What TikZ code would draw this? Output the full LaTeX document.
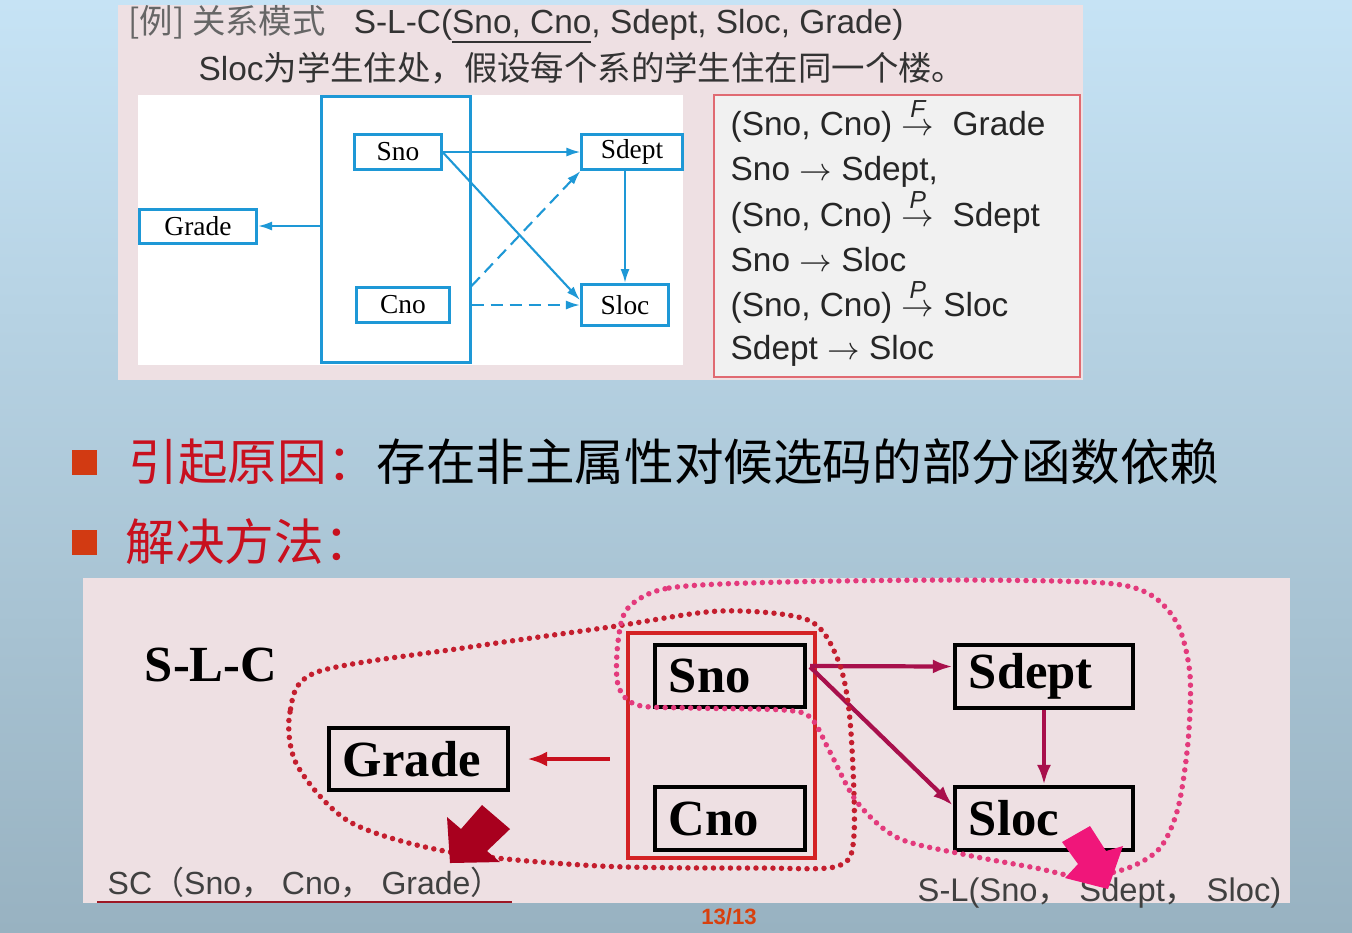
\documentclass[tikz,border=0pt]{standalone}
\usepackage{amsmath}
\usepackage{fontspec}
\setmainfont{Liberation Sans}
\newfontfamily\cjk{Noto Sans CJK SC}
\newfontfamily\serifbox{Liberation Serif}
\usetikzlibrary{arrows.meta,calc}

\definecolor{skytop}{HTML}{C6E3F5}
\definecolor{skybot}{HTML}{98B2C1}
\definecolor{paper}{HTML}{EEE0E3}
\definecolor{figblue}{HTML}{1E98D6}
\definecolor{fdframe}{HTML}{E06A72}
\definecolor{fdfill}{HTML}{F1F1F1}
\definecolor{bulred}{HTML}{D23A12}
\definecolor{hanred}{HTML}{C8101E}
\definecolor{keyred}{HTML}{D42224}
\definecolor{fdarr}{HTML}{A8104C}
\definecolor{scdot}{HTML}{C41E2E}
\definecolor{sldot}{HTML}{E33A7C}
\definecolor{scblk}{HTML}{A8001E}
\definecolor{slblk}{HTML}{F0167A}
\definecolor{pagenum}{HTML}{D8400E}

\newcommand{\fdto}[1]{\ooalign{\hfil\raisebox{1.0ex}{\scriptsize\itshape #1}\hfil\cr$\rightarrow$\cr}}

\begin{document}
\begin{tikzpicture}[x=0.01cm, y=-0.01cm, >={Latex[length=0.14cm,width=0.09cm]},
    tbox/.style={draw=figblue, line width=0.85pt, fill=white, inner sep=0pt, font=\serifbox\fontsize{7.8}{9}\selectfont},
    fdline/.style={anchor=base west, inner sep=0pt, font=\fontsize{9.5}{11}\selectfont, text=black!85},
    bbox/.style={draw=black, line width=1.2pt, inner xsep=0.14cm, inner ysep=0pt, align=left, font=\serifbox\bfseries\fontsize{14.4}{16}\selectfont},
    dotline/.style={line width=0.055cm, line cap=round, dash pattern=on 0pt off 0.085cm},
    hanzi/.style={anchor=west, inner sep=0pt, font=\cjk\fontsize{14.1}{16}\selectfont},
    fdlink/.style={fdarr, line width=1.2pt, -{Latex[length=0.2cm,width=0.14cm]}}]
  \useasboundingbox (0,0) rectangle (1352,932);
  \fill[top color=skytop, bottom color=skybot] (0,0) rectangle (1352,932);

  % example slide
  \fill[paper] (118,5) rectangle (1083,380);
  \node[anchor=base west, inner sep=0pt, font=\fontsize{9.5}{11}\selectfont, text=black!80] (title) at (128,33)
    {{\cjk\color{black!60}[例] 关系模式}\hspace{0.28cm}S-L-C(\underline{Sno, Cno}, Sdept, Sloc, Grade)};
  \node[anchor=base west, inner sep=0pt, font=\fontsize{9.5}{11}\selectfont, text=black!80] (note) at (198,80)
    {Sloc{\cjk 为学生住处，假设每个系的学生住在同一个楼。}};
  \fill[white] (138,95) rectangle (683,365);
  \node[draw=figblue, line width=0.85pt, minimum width=1.48cm, minimum height=2.65cm, inner sep=0pt] (tkey) at (396,229.5) {};
  \node[tbox, minimum width=0.86cm, minimum height=0.35cm] (tsno) at (398,152) {Sno};
  \node[tbox, minimum width=0.93cm, minimum height=0.35cm] (tcno) at (403,305) {Cno};
  \node[tbox, minimum width=1.17cm, minimum height=0.34cm] (tgrade) at (198,226) {Grade};
  \node[tbox, minimum width=1.00cm, minimum height=0.35cm] (tsdept) at (632,152) {Sdept};
  \node[tbox, minimum width=0.87cm, minimum height=0.41cm] (tsloc) at (625,305) {Sloc};
  \begin{scope}[figblue, line width=0.6pt]
    \draw[->] (tkey.west |- tgrade) -- (tgrade.east);
    \draw[->] (tsno.east) -- (tsdept.west);
    \draw[->] (tsno.east) -- ($(tsloc.west)+(0,-5)$);
    \draw[->, dash pattern=on 0.12cm off 0.07cm] (tkey.east |- tcno.north) -- (tsdept.south west);
    \draw[->, dash pattern=on 0.12cm off 0.07cm] (tkey.east |- tcno) -- (tsloc.west);
    \draw[->] (tsloc.north |- tsdept.south) -- (tsloc.north);
  \end{scope}

  \node[draw=fdframe, fill=fdfill, line width=0.6pt, minimum width=3.66cm, minimum height=2.82cm, inner sep=0pt] (fdbox) at (897,236) {};
  \foreach \i/\y/\txt in {1/135/{(Sno, Cno) \fdto{F}\ \ Grade},
                          2/180/{Sno $\rightarrow$ Sdept,},
                          3/226/{(Sno, Cno) \fdto{P}\ \ Sdept},
                          4/271/{Sno $\rightarrow$ Sloc},
                          5/316/{(Sno, Cno) \fdto{P} Sloc},
                          6/359/{Sdept $\rightarrow$ Sloc}} {
    \node[fdline] (fd\i) at (730,\y) {\txt};
  }

  % bullets
  \node[fill=bulred, minimum size=0.25cm, inner sep=0pt] (bul1) at (84.5,462.5) {};
  \node[fill=bulred, minimum size=0.25cm, inner sep=0pt] (bul2) at (84.5,542.5) {};
  \node[hanzi] (cause) at (128,462) {{\color{hanred}引起原因：}存在非主属性对候选码的部分函数依赖};
  \node[hanzi, text=hanred] (cure) at (125,542) {解决方法：};

  % decomposition
  \fill[paper] (83,578) rectangle (1290,903);
  \draw[scdot!80!black, line width=0.4pt] (97,902) -- (512,902);
  \node[inner sep=0pt, font=\serifbox\bfseries\fontsize{14.4}{16}\selectfont] (slc) at (211,665) {S-L-C};
  \node[draw=keyred, line width=1.2pt, minimum width=1.87cm, minimum height=2.25cm, inner sep=0pt] (bkey) at (721.5,745.5) {};
  \node[bbox, text width=1.51cm, minimum height=0.62cm] (bgrade) at (418.5,759) {Grade};
  \node[bbox, text width=1.22cm, minimum height=0.62cm] (bsno) at (730,676) {Sno};
  \node[bbox, text width=1.22cm, minimum height=0.63cm] (bcno) at (730,818.5) {Cno};
  \node[bbox, text width=1.50cm, minimum height=0.63cm] (bsdept) at (1044,676.5) {Sdept};
  \node[bbox, text width=1.50cm, minimum height=0.63cm] (bsloc) at (1044,818.5) {Sloc};
  \draw[hanred, line width=1.2pt, -{Latex[length=0.2cm,width=0.15cm]}] ($(bkey.west |- bgrade)+(-16,0)$) -- ($(bgrade.east)+(17,0)$);
  \draw[fdlink] ($(bsno.east)+(3,-10)$) -- ($(bsdept.west)+(0,-10)$);
  \draw[fdlink] ($(bsno.east)+(3,-9)$) -- ($(bsloc.west)+(0,-13)$);
  \draw[fdlink] (bsdept.south) -- (bsloc.north);

  \draw[scdot, dotline] plot[smooth cycle] coordinates {(317,672) (290,712) (297,765) (350,822) (450,852) (600,866) (760,868) (838,866) (854,835) (850,720) (838,660) (808,620) (720,611) (610,627) (470,647)};
  \draw[sldot, dotline] plot[smooth cycle] coordinates {(628,608) (669,588) (784,582) (967,580) (1105,583) (1151,595) (1178,625) (1190,675) (1188,742) (1178,808) (1160,848) (1128,868) (1082,877) (1036,868) (967,855) (898,838) (857,802) (830,752) (811,718) (784,710) (692,708) (637,705) (618,685) (618,642)};

  \node[anchor=base west, inner sep=0pt, font=\fontsize{9.1}{11}\selectfont, text=black!75] (sctxt) at (107,894)
    {SC{\cjk （}Sno{\cjk ，} Cno{\cjk ，} Grade{\cjk ）}};
  \node[anchor=base west, inner sep=0pt, font=\fontsize{9.3}{11}\selectfont, text=black!75] (sltxt) at (917,901)
    {S-L(Sno{\cjk ，} Sdept{\cjk ，} Sloc)};
  \fill[scblk] (450,863) -- (447,817) -- (461,829) -- (482,805) -- (510,829) -- (487,851) -- (500,862) -- cycle;
  \fill[slblk] (1062,842) -- (1090,826) -- (1106,851) -- (1123,846) -- (1108,889) -- (1065,878) -- (1078,864) -- cycle;

  \node[font=\bfseries\fontsize{6.3}{7}\selectfont, text=pagenum] (page) at (729,917) {13/13};
\end{tikzpicture}
\end{document}
